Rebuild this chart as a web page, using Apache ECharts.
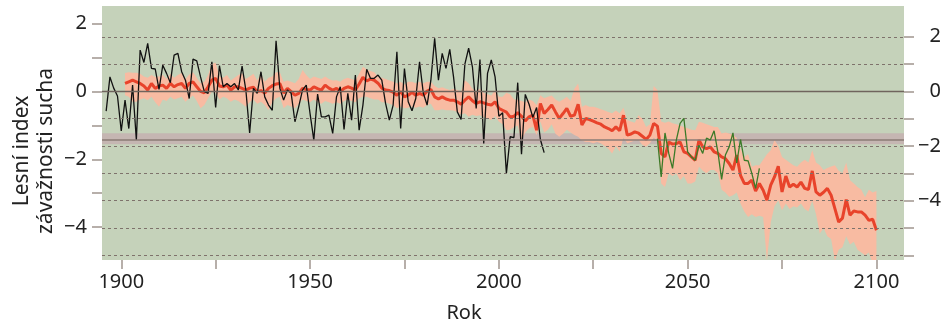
<!doctype html>
<html>
<head>
<meta charset="utf-8">
<title>Lesní index závažnosti sucha</title>
<script src="https://cdn.jsdelivr.net/npm/echarts@6/dist/echarts.min.js"></script>
<style>
  html, body { margin: 0; padding: 0; background: #fff; }
  #chart { width: 944px; height: 321px; }
</style>
</head>
<body>
<div id="chart"></div>
<script>
// modelovany prumer a rozptyl (od roku 1901)
var redStart = 1901;
var redMean = [
  0.29, 0.35, 0.41, 0.35, 0.29, 0.20, 0.05, 0.29, 0.11, 0.20,
  0.23, 0.11, 0.29, 0.17, 0.25, 0.29, 0.11, 0.29, 0.35, 0.17,
  0.00, -0.05, 0.17, 0.41, 0.48, 0.20, 0.17, 0.23, 0.05, 0.17,
  0.17, 0.11, 0.05, 0.12, 0.15, -0.01, 0.03, -0.06, 0.11, 0.21,
  0.27, 0.29, -0.06, 0.11, -0.01, -0.14, -0.07, 0.11, 0.07, 0.05,
  0.17, 0.10, 0.05, 0.23, 0.12, 0.05, 0.11, -0.01, 0.11, 0.17,
  0.12, 0.05, 0.27, 0.52, 0.38, 0.45, 0.41, 0.30, 0.12, 0.05,
  0.03, -0.03, -0.14, -0.01, -0.20, -0.14, -0.03, -0.14, -0.07, -0.14,
  0.01, 0.07, -0.20, -0.28, -0.20, -0.28, -0.32, -0.32, -0.38, -0.47,
  -0.32, -0.20, -0.34, -0.44, -0.38, -0.42, -0.47, -0.50, -0.38, -0.62,
  -0.69, -0.76, -0.94, -0.91, -0.78, -0.91, -1.08, -0.93, -0.87, -1.42,
  -0.44, -0.81, -0.66, -0.50, -0.75, -0.99, -0.81, -0.62, -0.91, -0.87,
  -0.47, -1.23, -0.99, -1.03, -1.09, -1.15, -1.20, -1.30, -1.36, -1.44,
  -1.30, -1.44, -0.87, -1.60, -1.56, -1.48, -1.53, -1.64, -1.76, -1.60,
  -1.17, -1.27, -2.27, -2.40, -1.85, -1.93, -1.91, -1.85, -2.21, -2.27,
  -2.40, -2.52, -1.78, -2.03, -2.09, -2.03, -2.21, -2.27, -2.40, -2.46,
  -2.64, -2.88, -2.33, -3.07, -3.37, -3.37, -3.25, -3.65, -3.37, -3.62,
  -3.98, -3.43, -3.13, -2.74, -3.68, -3.10, -3.50, -3.40, -3.50, -3.32,
  -3.55, -3.59, -2.91, -3.68, -3.80, -3.69, -3.55, -3.80, -4.29, -4.78,
  -4.64, -3.96, -4.53, -4.38, -4.41, -4.41, -4.53, -4.72, -4.68, -5.08
];
var bandHi = [
  0.67, 0.70, 0.68, 0.68, 0.65, 0.55, 0.50, 0.60, 0.53, 0.55,
  0.60, 0.45, 0.65, 0.50, 0.60, 0.67, 0.45, 0.62, 0.70, 0.50,
  0.30, 0.35, 0.60, 1.00, 1.05, 0.55, 0.50, 0.60, 0.40, 0.50,
  0.60, 0.66, 0.45, 0.55, 0.65, 0.40, 0.65, 0.35, 0.50, 0.55,
  0.70, 0.70, 0.35, 0.40, 0.35, 0.30, 0.45, 0.78, 0.60, 0.45,
  0.55, 0.50, 0.45, 0.55, 0.45, 0.40, 0.41, 0.35, 0.45, 0.50,
  0.45, 0.40, 0.65, 0.90, 0.80, 0.75, 0.70, 0.55, 0.50, 0.45,
  0.40, 0.35, 0.30, 0.35, 0.25, 0.35, 0.35, 0.30, 0.35, 0.30,
  0.35, 0.35, 0.20, 0.12, 0.15, 0.10, 0.05, 0.10, 0.05, 0.00,
  0.41, 0.30, 0.10, 0.00, 0.10, -0.05, -0.10, -0.15, 0.05, -0.20,
  -0.20, -0.05, -0.10, -0.30, -0.30, -0.35, -0.40, -0.30, -0.35, -0.50,
  -0.14, -0.25, -0.20, -0.15, -0.30, -0.38, -0.30, -0.20, -0.35, 0.10,
  0.29, -0.56, -0.50, -0.56, -0.56, -0.60, -0.65, -0.70, -0.75, -0.80,
  -0.70, -0.80, -0.60, -1.05, -1.10, -1.15, -0.87, -1.00, -1.30, -1.20,
  0.20, 0.05, -1.10, -1.15, -1.10, -1.17, -1.20, -1.25, -1.30, -1.35,
  -1.40, -1.42, -1.11, -1.15, -1.20, -1.25, -1.30, -1.30, -1.54, -1.50,
  -1.54, -1.60, -1.70, -2.10, -2.40, -2.30, -2.76, -2.70, -2.70, -2.50,
  -2.30, -2.15, -1.78, -2.00, -2.40, -2.50, -2.60, -2.70, -2.76, -2.60,
  -2.50, -2.60, -2.15, -2.60, -2.70, -2.88, -2.80, -2.75, -2.70, -2.90,
  -3.00, -2.60, -3.25, -3.37, -3.50, -3.60, -3.87, -3.60, -3.70, -3.65
];
var bandLo = [
  -0.14, -0.20, -0.38, -0.38, -0.30, -0.25, -0.32, -0.20, -0.40, -0.56,
  -0.30, -0.35, -0.20, -0.30, -0.25, -0.20, -0.38, -0.25, -0.15, -0.35,
  -0.62, -0.50, -0.25, 0.00, -0.05, -0.30, -0.20, -0.25, -0.38, -0.30,
  -0.35, -0.45, -0.56, -0.40, -0.30, -0.45, -0.38, -0.50, -0.69, -0.40,
  -0.25, -0.20, -0.62, -0.50, -0.55, -0.62, -0.45, -0.30, -0.35, -0.40,
  -0.30, -0.40, -0.45, -0.35, -0.40, -0.45, -0.40, -0.45, -0.35, -0.30,
  -0.35, -0.40, -0.25, -0.20, -0.20, -0.25, -0.30, -0.30, -0.40, -0.40,
  -0.45, -0.50, -0.62, -0.55, -0.62, -0.60, -0.55, -0.60, -0.55, -0.60,
  -0.50, -0.45, -0.69, -0.69, -0.65, -0.69, -0.69, -0.70, -0.75, -0.85,
  -0.80, -0.93, -0.85, -0.90, -0.87, -0.95, -1.00, -1.05, -0.90, -1.10,
  -1.20, -1.42, -1.40, -1.30, -1.25, -1.78, -1.50, -1.35, -1.30, -1.60,
  -1.10, -1.50, -1.40, -1.20, -1.55, -1.66, -1.55, -1.40, -1.50, -1.60,
  -1.66, -1.80, -1.85, -1.85, -1.90, -1.85, -1.90, -2.00, -2.10, -2.27,
  -2.00, -2.20, -1.70, -1.90, -1.85, -1.80, -1.78, -1.95, -2.03, -1.90,
  -1.70, -1.80, -3.37, -3.50, -3.00, -3.10, -3.00, -3.25, -3.10, -3.37,
  -3.37, -3.30, -2.76, -2.90, -3.00, -2.88, -2.88, -3.00, -3.60, -3.70,
  -3.86, -3.80, -3.70, -4.10, -4.40, -4.60, -4.50, -4.60, -4.55, -4.60,
  -6.20, -4.80, -4.20, -3.98, -4.35, -4.10, -4.30, -4.20, -4.25, -4.10,
  -4.30, -4.40, -4.00, -4.50, -5.20, -5.00, -5.30, -5.40, -6.20, -5.80,
  -5.70, -5.30, -5.60, -5.50, -5.80, -5.90, -6.00, -5.90, -6.30, -6.30
];
// pozorovani (od roku 1896)
var obsStart = 1896;
var observed = [
  -0.72, 0.53, 0.12, -0.17, -1.45,
  -0.32, -1.36, 0.23, -1.78, 1.51, 1.06, 1.76, 0.84, 0.82, 0.07,
  0.96, 0.66, 0.32, 1.33, 1.39, 0.72, 0.41, -0.26, 1.18, 1.12,
  0.53, -0.01, -0.07, 1.08, -0.59, 0.94, 0.17, 0.29, 0.17, 0.29,
  0.05, 0.93, 0.05, -1.52, 0.11, -0.07, 0.72, -0.20, -0.50, -0.69,
  1.85, 0.11, -0.32, 0.05, -0.07, -1.11, -0.56, 0.05, 0.23, -0.81,
  -1.78, -0.10, -0.93, -0.93, -0.87, -1.54, -0.20, 0.17, -1.39, -0.07,
  -1.05, 0.60, -1.42, -0.50, 0.81, 0.48, 0.48, 0.60, 0.41, -0.44,
  -1.05, -0.50, 1.45, -1.36, 0.84, -0.38, -0.71, -0.26, 1.08, -0.07,
  -0.50, 0.41, 1.94, 0.41, 1.39, 0.84, 1.54, 0.53, -0.75, -1.03,
  1.00, 1.58, 0.90, -0.62, 1.17, -1.91, 0.66, 1.15, 0.53, -0.91,
  -0.78, -3.00, -1.66, -1.69, 0.32, -2.30, -0.11, -0.47, -0.95, -0.59,
  -1.76, -2.24
];
// jedna simulace (od roku 2042)
var simStart = 2042;
var simulated = [
  -1.73, -3.13, -1.52, -2.27, -2.82, -1.78, -1.17, -0.99, -2.21,
  -2.40, -2.52, -1.97, -2.27, -1.71, -1.78, -1.44, -2.21, -3.22, -2.33,
  -2.03, -1.52, -2.62, -1.76, -2.52, -2.54, -3.00, -3.55, -2.82
];

var xTicks = [1900, 1925, 1950, 1975, 2000, 2025, 2050, 2075, 2100];
var xLabels = [1900, 1950, 2000, 2050, 2100];
var leftTicks = [2, 1, 0, -1, -2, -3, -4];
var leftLabels = [2, 0, -2, -4];
var rightTicks = [2, 1, 0, -1, -2, -3, -4, -5, -6];
var rightLabels = [2, 0, -2, -4];
var dashLines = [2, 1, -1, -2, -3, -4, -5, -6];
var refBand = [-1.53, -1.93];
var refLine = -1.77;

function pairs(start, arr) {
  var out = [];
  for (var i = 0; i < arr.length; i++) out.push([start + i, arr[i]]);
  return out;
}

var tickStyle = { color: '#a0958e', width: 1.5 };
var labelFont = { fontSize: 20, fontFamily: 'Noto Sans', color: '#222' };
function minus(v) { return String(v).replace('-', '\u2212'); }

var gridLines = dashLines.map(function (v) {
  return { yAxis: v, lineStyle: { type: [3, 3], color: '#7e726b', width: 1 } };
});
gridLines.push({ yAxis: 0, lineStyle: { type: 'solid', color: '#6f645d', width: 1.3 } });
gridLines.push({ yAxis: refLine, lineStyle: { type: 'solid', color: '#8a7b74', width: 1.5 } });

// pas rozptylu modelu jako jeden polygon
function renderBand(params, api) {
  var pts = [];
  for (var i = 0; i < bandHi.length; i++) pts.push(api.coord([redStart + i, bandHi[i]]));
  for (var j = bandLo.length - 1; j >= 0; j--) pts.push(api.coord([redStart + j, bandLo[j]]));
  var cs = params.coordSys;
  return {
    type: 'polygon',
    shape: { points: pts },
    style: { fill: '#f8bba2' },
    clipPath: { type: 'rect', shape: { x: cs.x, y: cs.y, width: cs.width, height: cs.height } }
  };
}

var myChart = echarts.init(document.getElementById('chart'));
var option = {
  animation: false,
  grid: {
    left: 102, right: 40, top: 6, bottom: 61,
    show: true, backgroundColor: '#c5d2ba', borderWidth: 0
  },
  xAxis: {
    type: 'value', min: 1894.9, max: 2107.3,
    splitLine: { show: false },
    axisLine: { show: false, onZero: false },
    axisTick: { show: true, customValues: xTicks, length: 9, lineStyle: tickStyle },
    axisLabel: Object.assign({ customValues: xLabels, margin: 12, formatter: function (v) { return String(v); } }, labelFont)
  },
  yAxis: [{
    type: 'value', position: 'left', min: -4.97, max: 2.518,
    splitLine: { show: false },
    axisLine: { show: false, onZero: false },
    axisTick: { show: true, customValues: leftTicks, length: 10, lineStyle: tickStyle },
    axisLabel: Object.assign({ customValues: leftLabels, margin: 15, formatter: minus }, labelFont)
  }, {
    type: 'value', position: 'right', min: -6.171, max: 3.126,
    splitLine: { show: false },
    axisLine: { show: false, onZero: false },
    axisTick: { show: true, customValues: rightTicks, length: 10, lineStyle: tickStyle },
    axisLabel: Object.assign({ customValues: rightLabels, margin: 37, align: 'right', formatter: minus }, labelFont)
  }],
  graphic: [{
    type: 'text', x: 34, y: 151, rotation: Math.PI / 2,
    style: {
      text: 'Lesní index\nzávažnosti sucha', font: '21px "Noto Sans"',
      textAlign: 'center', textVerticalAlign: 'middle', fill: '#222', lineHeight: 24
    }
  }, {
    type: 'text', x: 464, y: 313,
    style: {
      text: 'Rok', font: '20px "Noto Sans"',
      textAlign: 'center', textVerticalAlign: 'middle', fill: '#222'
    }
  }],
  series: [{
    type: 'custom', yAxisIndex: 1, data: [[redStart, 0]], z: 1, silent: true,
    renderItem: renderBand
  }, {
    type: 'line', yAxisIndex: 1, data: [], z: 2,
    markArea: {
      silent: true,
      itemStyle: { color: 'rgba(196,170,175,0.7)' },
      data: [[{ yAxis: refBand[0] }, { yAxis: refBand[1] }]]
    },
    markLine: {
      silent: true, symbol: ['none', 'none'], label: { show: false },
      data: gridLines
    }
  }, {
    type: 'line', yAxisIndex: 1, data: pairs(redStart, redMean),
    symbol: 'none', lineStyle: { color: '#e8432b', width: 3 }, z: 3
  }, {
    type: 'line', yAxisIndex: 1, data: pairs(obsStart, observed),
    symbol: 'none', lineStyle: { color: '#111111', width: 1.3 }, z: 4
  }, {
    type: 'line', yAxisIndex: 1, data: pairs(simStart, simulated),
    symbol: 'none', lineStyle: { color: '#3b7a28', width: 1.3 }, z: 5
  }]
};
myChart.setOption(option);
</script>
</body>
</html>
